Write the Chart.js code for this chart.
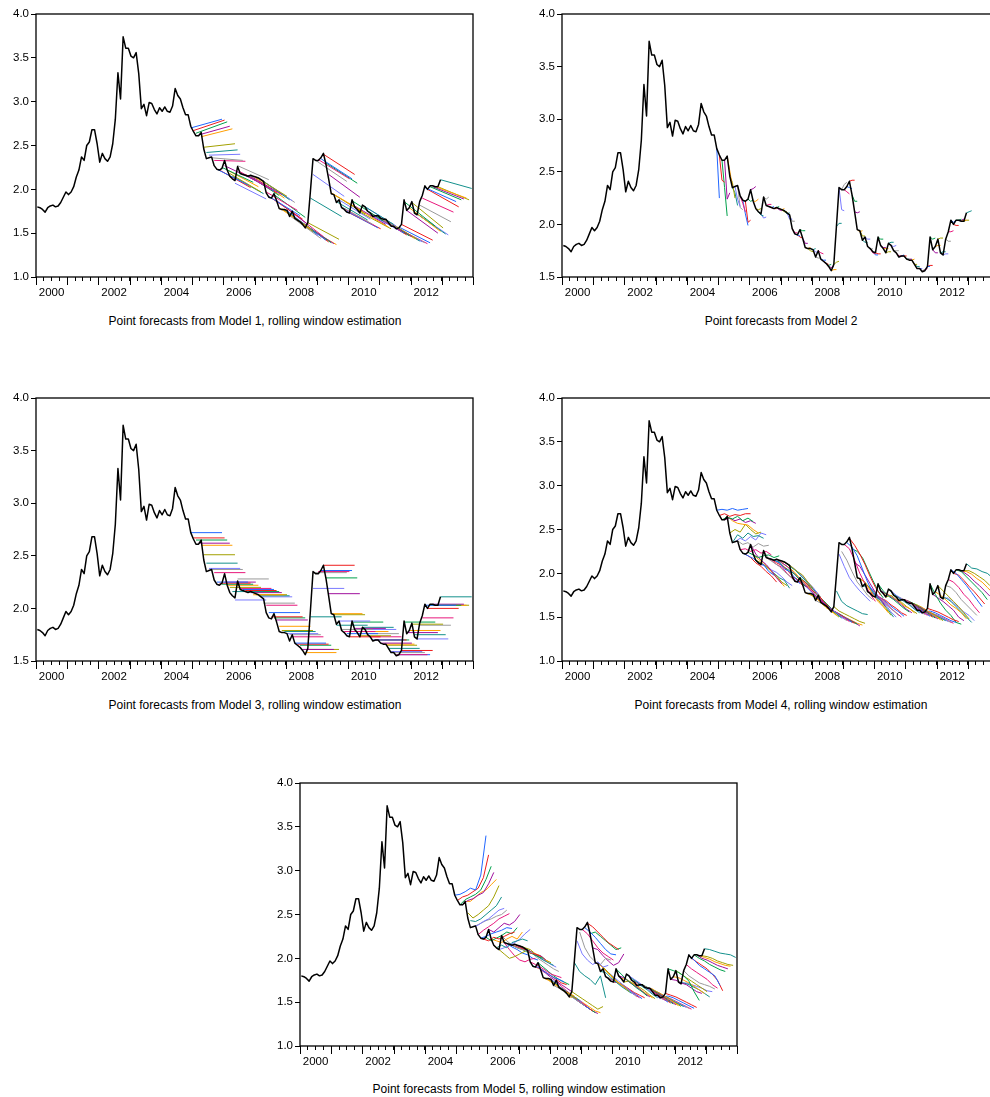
<!DOCTYPE html>
<html>
<head>
<meta charset="utf-8">
<script src="https://cdn.jsdelivr.net/npm/chart.js@4.4.0/dist/chart.umd.min.js"></script>
<style>
  html, body { margin: 0; padding: 0; width: 990px; height: 1097px; overflow: hidden; background: #fff; }
  canvas { position: absolute; }
  .cap { position: absolute; width: 500px; text-align: center; color: #000;
         font: 12px "Liberation Sans", Arial, sans-serif; line-height: 14px; white-space: nowrap; }
</style>
</head>
<body>
<canvas id="p1" width="483" height="307" style="left:0;top:0"></canvas>
<canvas id="p2" width="483" height="307" style="left:526px;top:0"></canvas>
<canvas id="p3" width="483" height="307" style="left:0;top:384px"></canvas>
<canvas id="p4" width="483" height="307" style="left:526px;top:384px"></canvas>
<canvas id="p5" width="483" height="307" style="left:264px;top:769px"></canvas>
<div class="cap" style="left:5px;top:314px">Point forecasts from Model 1, rolling window estimation</div>
<div class="cap" style="left:531px;top:314px">Point forecasts from Model 2</div>
<div class="cap" style="left:5px;top:698px">Point forecasts from Model 3, rolling window estimation</div>
<div class="cap" style="left:531px;top:698px">Point forecasts from Model 4, rolling window estimation</div>
<div class="cap" style="left:269px;top:1082px">Point forecasts from Model 5, rolling window estimation</div>
<script>
// Monthly series, index 0 = Jan 2000
const actual = [
  1.80, 1.79, 1.77, 1.74, 1.79, 1.81, 1.82, 1.80, 1.81, 1.85, 1.91, 1.97,
  1.94, 1.97, 2.03, 2.14, 2.22, 2.37, 2.33, 2.50, 2.54, 2.68, 2.68, 2.52,
  2.31, 2.41, 2.35, 2.32, 2.37, 2.52, 2.80, 3.33, 3.03, 3.74, 3.61, 3.61,
  3.52, 3.50, 3.56, 3.32, 2.92, 2.97, 2.84, 2.99, 2.98, 2.91, 2.86, 2.93,
  2.89, 2.94, 2.89, 2.88, 2.95, 3.15, 3.07, 3.03, 2.93, 2.85, 2.85, 2.72,
  2.66, 2.61, 2.61, 2.65, 2.46, 2.35, 2.36, 2.37, 2.27, 2.23, 2.22, 2.24,
  2.33, 2.22, 2.15, 2.12, 2.10, 2.26, 2.18, 2.17, 2.16, 2.15, 2.16, 2.15,
  2.14, 2.13, 2.11, 2.09, 1.96, 1.91, 1.90, 1.95, 1.87, 1.78, 1.77, 1.77,
  1.76, 1.69, 1.75, 1.67, 1.65, 1.63, 1.60, 1.56, 1.62, 1.98, 2.35, 2.33,
  2.33, 2.36, 2.41, 2.28, 2.12, 1.95, 1.94, 1.85, 1.88, 1.79, 1.77, 1.74,
  1.73, 1.88, 1.80, 1.77, 1.73, 1.82, 1.80, 1.75, 1.73, 1.69, 1.70, 1.70,
  1.67, 1.66, 1.66, 1.62, 1.58, 1.58, 1.55, 1.56, 1.60, 1.88, 1.76, 1.79,
  1.86, 1.73, 1.71, 1.86, 1.93, 2.04, 2.00, 2.04, 2.04, 2.03, 2.03, 2.11
];

// forecasts start at Dec 2004 (month 59), one per month
const firstOrigin = 59;
const horizon = 12;

const yearLabels = ['2000', '2002', '2004', '2006', '2008', '2010', '2012'];
const yTicks = [1.0, 1.5, 2.0, 2.5, 3.0, 3.5, 4.0];

// Model 1: straight lines, value at origin and 12 months later
const m1Start = [
  2.70, 2.67, 2.64, 2.62, 2.60, 2.48, 2.42, 2.39, 2.36, 2.33,
  2.23, 2.22, 2.25, 2.27, 2.22, 2.18, 2.15, 2.07, 2.27, 2.20,
  2.18, 2.17, 2.16, 2.15, 2.15, 2.14, 2.13, 2.11, 2.09, 1.97,
  1.92, 1.90, 1.94, 1.87, 1.79, 1.78, 1.77, 1.76, 1.70, 1.74,
  1.68, 1.66, 1.64, 1.61, 1.57, 1.62, 1.90, 2.17, 2.33, 2.34,
  2.35, 2.40, 2.30, 2.17, 1.96, 1.94, 1.86, 1.88, 1.80, 1.78,
  1.75, 1.73, 1.87, 1.81, 1.78, 1.74, 1.82, 1.80, 1.75, 1.73,
  1.70, 1.70, 1.69, 1.67, 1.66, 1.65, 1.62, 1.59, 1.58, 1.56,
  1.57, 1.60, 1.86, 1.76, 1.79, 1.85, 1.74, 1.72, 1.82, 1.90,
  2.02, 2.00, 2.03, 2.03, 2.03, 2.03, 2.11
];
const m1End = [
  2.80, 2.79, 2.77, 2.72, 2.69, 2.52, 2.45, 2.40, 2.33, 2.32,
  2.05, 2.02, 2.08, 2.10, 2.03, 1.97, 1.95, 1.89, 2.11, 2.00,
  1.98, 1.96, 1.93, 1.94, 1.90, 1.92, 1.88, 1.87, 1.85, 1.76,
  1.70, 1.66, 1.68, 1.60, 1.55, 1.52, 1.50, 1.47, 1.44, 1.46,
  1.42, 1.40, 1.39, 1.38, 1.37, 1.43, 1.69, 1.92, 2.09, 2.12,
  2.12, 2.17, 2.07, 1.91, 1.75, 1.72, 1.65, 1.66, 1.60, 1.58,
  1.56, 1.55, 1.64, 1.60, 1.57, 1.55, 1.60, 1.58, 1.55, 1.52,
  1.50, 1.48, 1.47, 1.46, 1.44, 1.43, 1.41, 1.40, 1.39, 1.38,
  1.39, 1.42, 1.58, 1.50, 1.52, 1.56, 1.49, 1.48, 1.63, 1.74,
  1.86, 1.80, 1.88, 1.89, 1.90, 1.88, 2.01
];

// Model 2: short monthly paths from each origin
const m2Paths = [
  [2.72, 2.25], [2.66, 2.42, 2.40], [2.61, 2.35, 2.08], [2.61, 2.24, 2.30], [2.65, 2.51, 2.36],
  [2.46, 2.40, 2.25], [2.35, 2.30, 2.18], [2.36, 2.24, 2.17], [2.37, 2.16, 2.14], [2.27, 2.20, 2.12],
  [2.23, 2.10, 1.99], [2.22, 2.02, 2.04], [2.24, 2.22, 2.23], [2.33, 2.34, 2.36], [2.22, 2.22, 2.24],
  [2.15, 2.14, 2.15], [2.12, 2.09, 2.08], [2.10, 2.06, 2.07], [2.26, 2.24, 2.26], [2.18, 2.19, 2.19],
  [2.17, 2.16, 2.17], [2.16, 2.15, 2.15], [2.15, 2.16, 2.17], [2.16, 2.14, 2.13], [2.15, 2.14, 2.15],
  [2.14, 2.12, 2.12], [2.13, 2.10, 2.11], [2.11, 2.05, 2.05], [2.09, 2.03, 2.03], [1.96, 1.92, 1.92],
  [1.91, 1.90, 1.89], [1.90, 1.88, 1.87], [1.95, 1.94, 1.94], [1.87, 1.82, 1.82], [1.78, 1.77, 1.78],
  [1.77, 1.75, 1.74], [1.77, 1.76, 1.77], [1.76, 1.74, 1.73], [1.69, 1.68, 1.68], [1.75, 1.73, 1.72],
  [1.67, 1.66, 1.66], [1.65, 1.63, 1.62], [1.63, 1.61, 1.62], [1.60, 1.59, 1.60], [1.56, 1.57, 1.57],
  [1.62, 1.64, 1.65], [1.98, 2.01, 2.01], [2.35, 2.14, 2.13], [2.33, 2.38, 2.40], [2.33, 2.31, 2.29],
  [2.36, 2.35, 2.34], [2.41, 2.42, 2.42], [2.28, 2.22, 2.22], [2.12, 2.11, 2.12], [1.95, 1.93, 1.94],
  [1.94, 1.89, 1.89], [1.85, 1.83, 1.83], [1.88, 1.86, 1.86], [1.79, 1.76, 1.77], [1.77, 1.73, 1.72],
  [1.74, 1.71, 1.71], [1.73, 1.72, 1.72], [1.88, 1.86, 1.86], [1.80, 1.78, 1.78], [1.77, 1.77, 1.77],
  [1.73, 1.74, 1.74], [1.82, 1.83, 1.83], [1.80, 1.79, 1.80], [1.75, 1.75, 1.75], [1.73, 1.70, 1.70],
  [1.69, 1.70, 1.71], [1.70, 1.70, 1.70], [1.70, 1.67, 1.67], [1.67, 1.67, 1.67], [1.66, 1.66, 1.67],
  [1.66, 1.62, 1.62], [1.62, 1.60, 1.60], [1.58, 1.58, 1.58], [1.58, 1.56, 1.57], [1.55, 1.57, 1.58],
  [1.56, 1.60, 1.60], [1.60, 1.61, 1.61], [1.88, 1.86, 1.87], [1.76, 1.73, 1.73], [1.79, 1.80, 1.80],
  [1.86, 1.87, 1.87], [1.73, 1.74, 1.74], [1.71, 1.72, 1.72], [1.86, 1.84, 1.84], [1.93, 1.93, 1.94],
  [2.04, 2.02, 2.04], [2.00, 1.99, 1.99], [2.04, 2.04, 2.05], [2.04, 2.04, 2.05], [2.03, 2.04, 2.04],
  [2.03, 2.04, 2.04], [2.11, 2.12, 2.13]
];

// Model 3: flat forecasts
const m3Level = [
  2.72, 2.67, 2.65, 2.62, 2.60, 2.51, 2.43, 2.38, 2.37, 2.34,
  2.25, 2.24, 2.23, 2.25, 2.22, 2.20, 2.16, 2.08, 2.28, 2.19,
  2.18, 2.17, 2.16, 2.15, 2.13, 2.13, 2.12, 2.11, 2.05, 2.03,
  1.96, 1.92, 1.91, 1.89, 1.83, 1.79, 1.78, 1.76, 1.75, 1.73,
  1.67, 1.66, 1.65, 1.61, 1.58, 1.61, 1.92, 2.19, 2.34, 2.35,
  2.36, 2.41, 2.29, 2.14, 1.95, 1.94, 1.84, 1.88, 1.80, 1.78,
  1.76, 1.73, 1.87, 1.81, 1.78, 1.74, 1.82, 1.80, 1.76, 1.73,
  1.70, 1.70, 1.70, 1.67, 1.66, 1.65, 1.62, 1.59, 1.58, 1.56,
  1.56, 1.60, 1.87, 1.77, 1.79, 1.85, 1.75, 1.71, 1.84, 1.91,
  2.03, 2.00, 2.03, 2.04, 2.03, 2.03, 2.11
];

// Models 4 and 5: values every 2 months from origin, 12 months ahead
const m4Paths = [
  [2.72, 2.73, 2.72, 2.74, 2.72, 2.73, 2.74], [2.66, 2.68, 2.65, 2.67, 2.66, 2.68, 2.68],
  [2.61, 2.64, 2.62, 2.65, 2.60, 2.63, 2.59], [2.61, 2.63, 2.60, 2.62, 2.58, 2.60, 2.57],
  [2.65, 2.60, 2.57, 2.56, 2.55, 2.50, 2.46], [2.46, 2.50, 2.47, 2.56, 2.50, 2.45, 2.47],
  [2.35, 2.44, 2.40, 2.46, 2.42, 2.43, 2.40], [2.36, 2.40, 2.37, 2.42, 2.38, 2.46, 2.44],
  [2.37, 2.33, 2.35, 2.30, 2.34, 2.31, 2.32], [2.27, 2.28, 2.25, 2.27, 2.23, 2.25, 2.21],
  [2.23, 2.20, 2.17, 2.12, 2.10, 2.02, 1.98], [2.22, 2.18, 2.12, 2.08, 2.02, 1.97, 1.90],
  [2.24, 2.21, 2.18, 2.20, 2.21, 2.18, 2.20], [2.33, 2.22, 2.15, 2.10, 2.03, 1.95, 1.88],
  [2.22, 2.16, 2.12, 2.06, 1.98, 1.92, 1.85], [2.15, 2.12, 2.08, 2.02, 1.97, 1.90, 1.86],
  [2.12, 2.10, 2.05, 2.00, 1.95, 1.92, 1.83], [2.10, 2.08, 2.04, 2.01, 1.96, 1.90, 1.86],
  [2.26, 2.16, 2.12, 2.08, 2.02, 1.97, 1.93], [2.18, 2.15, 2.10, 2.07, 2.00, 1.94, 1.90],
  [2.17, 2.15, 2.12, 2.05, 2.02, 1.95, 1.88], [2.16, 2.12, 2.09, 2.04, 1.97, 1.93, 1.86],
  [2.15, 2.13, 2.07, 2.03, 1.99, 1.92, 1.85], [2.16, 2.12, 2.08, 2.02, 1.96, 1.90, 1.84],
  [2.15, 2.10, 2.06, 2.01, 1.94, 1.88, 1.82], [2.14, 2.11, 2.07, 2.02, 1.98, 1.90, 1.83],
  [2.13, 2.08, 2.04, 1.98, 1.92, 1.85, 1.79], [2.11, 2.07, 2.02, 1.97, 1.90, 1.84, 1.76],
  [2.09, 2.04, 1.99, 1.92, 1.86, 1.80, 1.73], [1.96, 1.93, 1.88, 1.84, 1.78, 1.71, 1.66],
  [1.91, 1.90, 1.86, 1.80, 1.74, 1.69, 1.63], [1.90, 1.92, 1.87, 1.80, 1.76, 1.68, 1.62],
  [1.95, 1.90, 1.83, 1.77, 1.72, 1.66, 1.60], [1.87, 1.84, 1.78, 1.72, 1.67, 1.61, 1.57],
  [1.78, 1.76, 1.72, 1.67, 1.61, 1.57, 1.52], [1.77, 1.74, 1.70, 1.64, 1.60, 1.55, 1.50],
  [1.77, 1.73, 1.68, 1.63, 1.58, 1.54, 1.49], [1.76, 1.72, 1.66, 1.62, 1.57, 1.52, 1.48],
  [1.69, 1.66, 1.62, 1.58, 1.54, 1.50, 1.46], [1.75, 1.68, 1.63, 1.57, 1.53, 1.49, 1.45],
  [1.67, 1.64, 1.59, 1.55, 1.51, 1.48, 1.44], [1.65, 1.61, 1.57, 1.53, 1.50, 1.46, 1.43],
  [1.63, 1.58, 1.55, 1.52, 1.48, 1.45, 1.42], [1.60, 1.57, 1.54, 1.50, 1.47, 1.44, 1.40],
  [1.56, 1.55, 1.52, 1.49, 1.46, 1.43, 1.41], [1.62, 1.57, 1.54, 1.51, 1.48, 1.45, 1.43],
  [1.80, 1.68, 1.63, 1.60, 1.57, 1.54, 1.53], [2.22, 2.08, 1.95, 1.87, 1.80, 1.74, 1.68],
  [2.25, 2.15, 2.02, 1.90, 1.83, 1.75, 1.70], [2.33, 2.28, 2.15, 2.00, 1.88, 1.76, 1.68],
  [2.35, 2.30, 2.20, 2.05, 1.90, 1.78, 1.70], [2.40, 2.32, 2.22, 2.10, 1.96, 1.84, 1.75],
  [2.28, 2.25, 2.18, 2.05, 1.92, 1.80, 1.72], [2.12, 2.08, 1.98, 1.88, 1.78, 1.70, 1.62],
  [1.95, 1.92, 1.85, 1.76, 1.68, 1.62, 1.55], [1.94, 1.90, 1.82, 1.74, 1.66, 1.60, 1.52],
  [1.85, 1.86, 1.80, 1.72, 1.65, 1.58, 1.50], [1.88, 1.84, 1.78, 1.70, 1.64, 1.56, 1.50],
  [1.79, 1.78, 1.74, 1.68, 1.62, 1.57, 1.52], [1.77, 1.76, 1.72, 1.66, 1.60, 1.55, 1.50],
  [1.74, 1.74, 1.70, 1.65, 1.60, 1.56, 1.51], [1.73, 1.72, 1.69, 1.64, 1.60, 1.55, 1.52],
  [1.88, 1.80, 1.74, 1.70, 1.65, 1.60, 1.56], [1.80, 1.77, 1.73, 1.69, 1.64, 1.59, 1.55],
  [1.77, 1.76, 1.71, 1.68, 1.63, 1.60, 1.55], [1.73, 1.75, 1.70, 1.67, 1.62, 1.58, 1.54],
  [1.82, 1.76, 1.72, 1.68, 1.64, 1.59, 1.55], [1.80, 1.75, 1.71, 1.67, 1.62, 1.58, 1.54],
  [1.75, 1.73, 1.70, 1.66, 1.61, 1.57, 1.53], [1.73, 1.71, 1.69, 1.65, 1.60, 1.56, 1.52],
  [1.69, 1.70, 1.67, 1.63, 1.59, 1.55, 1.51], [1.70, 1.69, 1.66, 1.62, 1.58, 1.54, 1.50],
  [1.70, 1.68, 1.65, 1.61, 1.57, 1.53, 1.49], [1.67, 1.66, 1.63, 1.60, 1.56, 1.52, 1.48],
  [1.66, 1.65, 1.62, 1.59, 1.55, 1.51, 1.47], [1.66, 1.64, 1.61, 1.57, 1.54, 1.50, 1.46],
  [1.62, 1.61, 1.58, 1.55, 1.52, 1.49, 1.46], [1.58, 1.58, 1.56, 1.54, 1.51, 1.48, 1.45],
  [1.58, 1.57, 1.55, 1.53, 1.50, 1.47, 1.44], [1.55, 1.56, 1.54, 1.52, 1.49, 1.46, 1.43],
  [1.56, 1.57, 1.55, 1.52, 1.49, 1.46, 1.44], [1.60, 1.58, 1.56, 1.53, 1.50, 1.47, 1.45],
  [1.88, 1.76, 1.66, 1.58, 1.52, 1.44, 1.42], [1.76, 1.72, 1.68, 1.63, 1.58, 1.50, 1.46],
  [1.79, 1.75, 1.70, 1.64, 1.60, 1.55, 1.48], [1.86, 1.80, 1.74, 1.68, 1.62, 1.55, 1.48],
  [1.73, 1.72, 1.68, 1.62, 1.56, 1.50, 1.44], [1.71, 1.72, 1.66, 1.61, 1.56, 1.52, 1.46],
  [1.86, 1.84, 1.78, 1.70, 1.64, 1.58, 1.52], [1.93, 1.90, 1.84, 1.76, 1.70, 1.62, 1.55],
  [2.04, 2.00, 1.93, 1.86, 1.78, 1.70, 1.62], [2.00, 1.98, 1.92, 1.85, 1.79, 1.72, 1.65],
  [2.04, 2.02, 1.96, 1.90, 1.84, 1.78, 1.70], [2.04, 2.01, 1.97, 1.91, 1.86, 1.80, 1.74],
  [2.03, 2.02, 1.99, 1.94, 1.90, 1.84, 1.78], [2.03, 2.03, 2.00, 1.96, 1.92, 1.86, 1.82],
  [2.11, 2.06, 2.05, 2.02, 2.00, 1.95, 1.90]
];
const m5Paths = [
  [2.72, 2.73, 2.76, 2.80, 2.78, 2.95, 3.40], [2.66, 2.70, 2.72, 2.76, 2.80, 2.92, 3.18],
  [2.61, 2.67, 2.70, 2.73, 2.78, 2.90, 3.05], [2.61, 2.66, 2.68, 2.72, 2.75, 2.85, 2.98],
  [2.65, 2.65, 2.70, 2.75, 2.78, 2.84, 2.90], [2.52, 2.46, 2.50, 2.55, 2.60, 2.70, 2.83],
  [2.43, 2.42, 2.45, 2.50, 2.55, 2.60, 2.70], [2.36, 2.38, 2.42, 2.45, 2.50, 2.55, 2.57],
  [2.37, 2.40, 2.43, 2.45, 2.48, 2.50, 2.55], [2.27, 2.32, 2.36, 2.40, 2.45, 2.48, 2.51],
  [2.23, 2.25, 2.28, 2.30, 2.32, 2.35, 2.34], [2.22, 2.20, 2.24, 2.22, 2.25, 2.28, 2.30],
  [2.24, 2.20, 2.23, 2.26, 2.30, 2.28, 2.35], [2.33, 2.30, 2.35, 2.40, 2.38, 2.42, 2.50],
  [2.22, 2.20, 2.18, 2.22, 2.25, 2.22, 2.30], [2.15, 2.10, 2.05, 2.00, 2.02, 2.05, 2.08],
  [2.12, 2.15, 2.12, 2.18, 2.20, 2.22, 2.20], [2.10, 2.12, 2.15, 2.18, 2.22, 2.28, 2.33],
  [2.26, 2.20, 2.15, 2.12, 2.10, 2.08, 2.06], [2.18, 2.10, 2.03, 1.98, 1.96, 1.99, 2.00],
  [2.17, 2.13, 2.10, 2.06, 2.04, 2.00, 1.98], [2.16, 2.14, 2.12, 2.10, 2.06, 2.05, 2.02],
  [2.15, 2.12, 2.10, 2.07, 2.05, 2.02, 2.00], [2.16, 2.13, 2.10, 2.08, 2.04, 2.03, 1.98],
  [2.15, 2.12, 2.09, 2.06, 2.04, 2.00, 1.96], [2.14, 2.12, 2.10, 2.05, 2.03, 1.98, 1.95],
  [2.13, 2.10, 2.06, 2.02, 1.98, 1.95, 1.92], [2.11, 2.08, 2.04, 2.00, 1.97, 1.93, 1.90],
  [2.09, 2.05, 2.00, 1.96, 1.92, 1.88, 1.85], [1.96, 1.93, 1.90, 1.86, 1.82, 1.80, 1.78],
  [1.91, 1.90, 1.86, 1.82, 1.78, 1.76, 1.73], [1.90, 1.88, 1.84, 1.80, 1.76, 1.72, 1.70],
  [1.95, 1.90, 1.85, 1.80, 1.76, 1.73, 1.70], [1.87, 1.83, 1.78, 1.74, 1.70, 1.66, 1.62],
  [1.78, 1.75, 1.71, 1.67, 1.63, 1.60, 1.57], [1.77, 1.74, 1.70, 1.65, 1.61, 1.57, 1.54],
  [1.77, 1.73, 1.68, 1.64, 1.60, 1.56, 1.52], [1.76, 1.72, 1.66, 1.62, 1.58, 1.54, 1.50],
  [1.69, 1.66, 1.62, 1.58, 1.54, 1.50, 1.46], [1.75, 1.68, 1.63, 1.58, 1.53, 1.49, 1.45],
  [1.67, 1.64, 1.59, 1.54, 1.50, 1.46, 1.42], [1.65, 1.61, 1.57, 1.52, 1.48, 1.44, 1.40],
  [1.63, 1.59, 1.55, 1.50, 1.46, 1.42, 1.38], [1.60, 1.57, 1.53, 1.49, 1.44, 1.40, 1.37],
  [1.56, 1.55, 1.52, 1.48, 1.44, 1.40, 1.38], [1.62, 1.58, 1.54, 1.50, 1.46, 1.42, 1.45],
  [1.95, 1.85, 1.80, 1.76, 1.70, 1.80, 1.55], [2.20, 2.05, 1.98, 1.93, 1.96, 1.90, 1.92],
  [2.30, 2.12, 2.02, 1.96, 1.93, 2.00, 1.98], [2.33, 2.28, 2.20, 2.12, 2.06, 2.02, 1.98],
  [2.35, 2.30, 2.24, 2.17, 2.10, 2.05, 2.04], [2.40, 2.36, 2.30, 2.24, 2.18, 2.14, 2.10],
  [2.28, 2.30, 2.25, 2.20, 2.15, 2.10, 2.12], [2.12, 2.10, 2.03, 1.97, 1.92, 1.95, 2.05],
  [1.95, 1.92, 1.86, 1.80, 1.74, 1.70, 1.65], [1.94, 1.90, 1.84, 1.78, 1.72, 1.68, 1.62],
  [1.85, 1.84, 1.78, 1.73, 1.68, 1.64, 1.60], [1.88, 1.84, 1.79, 1.74, 1.69, 1.64, 1.58],
  [1.79, 1.77, 1.73, 1.69, 1.65, 1.61, 1.56], [1.77, 1.75, 1.72, 1.68, 1.64, 1.59, 1.55],
  [1.74, 1.73, 1.70, 1.66, 1.62, 1.58, 1.54], [1.73, 1.72, 1.69, 1.65, 1.61, 1.58, 1.55],
  [1.88, 1.82, 1.76, 1.71, 1.66, 1.62, 1.57], [1.80, 1.78, 1.73, 1.69, 1.65, 1.60, 1.56],
  [1.77, 1.76, 1.72, 1.68, 1.63, 1.59, 1.55], [1.73, 1.74, 1.71, 1.67, 1.63, 1.58, 1.54],
  [1.82, 1.77, 1.73, 1.68, 1.64, 1.59, 1.55], [1.80, 1.76, 1.72, 1.67, 1.63, 1.58, 1.54],
  [1.75, 1.73, 1.70, 1.66, 1.61, 1.57, 1.53], [1.73, 1.71, 1.68, 1.64, 1.60, 1.56, 1.52],
  [1.69, 1.69, 1.66, 1.62, 1.58, 1.54, 1.50], [1.70, 1.68, 1.65, 1.61, 1.57, 1.53, 1.49],
  [1.70, 1.67, 1.64, 1.60, 1.56, 1.52, 1.48], [1.67, 1.66, 1.62, 1.59, 1.55, 1.51, 1.47],
  [1.66, 1.65, 1.61, 1.58, 1.54, 1.50, 1.46], [1.66, 1.63, 1.60, 1.56, 1.53, 1.49, 1.45],
  [1.62, 1.61, 1.58, 1.55, 1.51, 1.48, 1.45], [1.58, 1.58, 1.56, 1.53, 1.50, 1.47, 1.44],
  [1.58, 1.57, 1.55, 1.52, 1.49, 1.46, 1.43], [1.55, 1.56, 1.54, 1.51, 1.48, 1.45, 1.42],
  [1.56, 1.57, 1.55, 1.52, 1.49, 1.46, 1.43], [1.60, 1.58, 1.56, 1.53, 1.50, 1.47, 1.44],
  [1.88, 1.86, 1.84, 1.80, 1.74, 1.62, 1.52], [1.76, 1.75, 1.72, 1.70, 1.66, 1.62, 1.60],
  [1.79, 1.78, 1.75, 1.72, 1.68, 1.64, 1.60], [1.86, 1.82, 1.78, 1.74, 1.70, 1.66, 1.62],
  [1.73, 1.72, 1.70, 1.67, 1.64, 1.60, 1.56], [1.71, 1.72, 1.70, 1.68, 1.66, 1.63, 1.62],
  [1.86, 1.80, 1.76, 1.72, 1.70, 1.68, 1.65], [1.93, 1.88, 1.84, 1.80, 1.76, 1.70, 1.66],
  [2.04, 1.98, 1.92, 1.88, 1.84, 1.80, 1.69], [2.00, 1.96, 1.92, 1.88, 1.82, 1.75, 1.63],
  [2.04, 2.00, 1.97, 1.93, 1.90, 1.87, 1.85], [2.04, 2.00, 1.98, 1.95, 1.92, 1.90, 1.88],
  [2.03, 2.01, 1.99, 1.96, 1.94, 1.92, 1.91], [2.03, 2.02, 2.00, 1.97, 1.95, 1.93, 1.92],
  [2.11, 2.10, 2.08, 2.06, 2.05, 2.04, 2.01]
];

const palette = ['#2166ff', '#ee1c1c', '#00a04b', '#a0109e', '#ff9e00',
                 '#a3a000', '#14908c', '#7a7aff', '#9a9a9a', '#e8187c'];
const FONT = { family: '"Liberation Sans", Arial, sans-serif', size: 11.5 };

// each observation sits in the middle of its month
const mid = i => i + 0.5;

function forecastSets(paths, step) {
  return paths.map((vals, k) => ({
    data: vals.map((v, j) => ({ x: mid(firstOrigin + k + j * step), y: v })),
    borderColor: palette[k % palette.length],
    borderWidth: 1
  }));
}

// box around the plot and the longer yearly ticks
const frame = {
  id: 'frame',
  afterDraw(chart) {
    const { ctx, chartArea: a, scales } = chart;
    ctx.save();
    ctx.strokeStyle = '#000';
    ctx.lineWidth = 1;
    for (let m = 0; m <= 168; m += 12) {
      const px = Math.round(scales.x.getPixelForValue(m)) + 0.5;
      ctx.beginPath();
      ctx.moveTo(px, a.bottom);
      ctx.lineTo(px, a.bottom + 8);
      ctx.stroke();
    }
    ctx.lineWidth = 1.3;
    ctx.strokeRect(a.left, a.top, a.right - a.left, a.bottom - a.top);
    ctx.restore();
  }
};

function makePanel(id, yMin, forecasts) {
  const labelAt = {};
  yearLabels.forEach((y, n) => { labelAt[n * 24 + 6] = y; });
  const quarters = [];
  for (let m = 0; m <= 168; m += 3) quarters.push({ value: m });

  new Chart(document.getElementById(id), {
    type: 'line',
    data: {
      datasets: [{
        data: actual.map((v, i) => ({ x: mid(i), y: v })),
        borderColor: '#000',
        borderWidth: 1.5
      }].concat(forecasts)
    },
    options: {
      responsive: false,
      animation: false,
      devicePixelRatio: 1,
      layout: { padding: { top: 14, right: 10, left: 0, bottom: 0 } },
      plugins: { legend: { display: false }, tooltip: { enabled: false } },
      elements: { point: { radius: 0 }, line: { tension: 0, borderJoinStyle: 'round' } },
      scales: {
        x: {
          type: 'linear', min: 0, max: 168,
          afterBuildTicks: s => { s.ticks = quarters.slice(); },
          afterFit: s => { s.height = 30; },
          grid: { drawOnChartArea: false, tickLength: 4, color: '#000' },
          border: { display: false },
          ticks: {
            autoSkip: false, maxRotation: 0, padding: 5, color: '#000', font: FONT,
            callback: v => labelAt[v] || ''
          }
        },
        y: {
          min: yMin, max: 4.0,
          afterBuildTicks: s => { s.ticks = yTicks.filter(t => t >= yMin).map(t => ({ value: t })); },
          afterFit: s => { s.width = 36; },
          grid: { drawOnChartArea: false, tickLength: 5, color: '#000' },
          border: { display: false },
          ticks: { padding: 2, color: '#000', font: FONT, callback: v => v.toFixed(1) }
        }
      }
    },
    plugins: [frame]
  });
}

makePanel('p1', 1.0, forecastSets(m1Start.map((s, k) => [s, m1End[k]]), horizon));
makePanel('p2', 1.5, forecastSets(m2Paths, 1));
makePanel('p3', 1.5, forecastSets(m3Level.map(v => [v, v]), horizon));
makePanel('p4', 1.0, forecastSets(m4Paths, 2));
makePanel('p5', 1.0, forecastSets(m5Paths, 2));
</script>
</body>
</html>
